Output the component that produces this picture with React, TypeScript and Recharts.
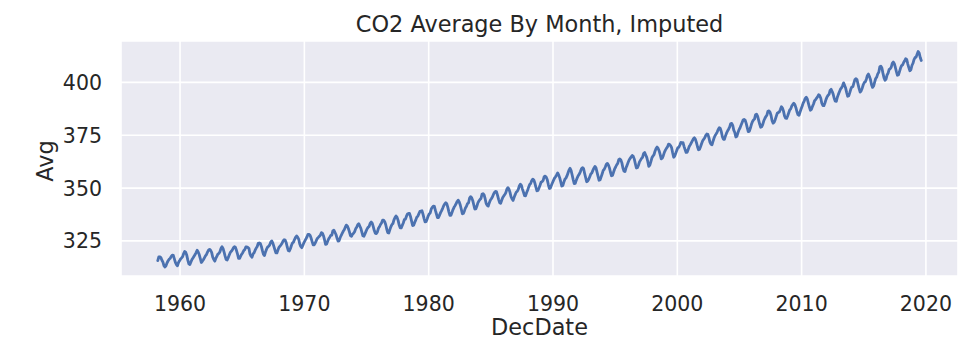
import { LineChart, Line, XAxis, YAxis, CartesianGrid } from 'recharts';

// Mauna Loa monthly CO2 average (ppm), gaps imputed. First value is March 1958.
const START_YEAR = 1958;
const START_MONTH = 3;

const co2_1958_1959 = [
  315.71, 317.45, 317.5, 317.1, 315.86, 314.93, 313.2, 312.66, 313.33, 314.67,
  315.62, 316.38, 316.71, 317.72, 318.29, 318.15, 316.54, 314.8, 313.84, 313.26, 314.8, 315.58,
];

const co2_1960s = [
  316.43, 316.97, 317.58, 319.02, 320.03, 319.59, 318.18, 315.91, 314.16, 313.83, 315.0, 316.19,
  316.93, 317.7, 318.54, 319.48, 320.58, 319.77, 318.57, 316.79, 314.8, 315.38, 316.1, 317.01,
  317.94, 318.56, 319.68, 320.63, 321.01, 320.55, 319.58, 317.4, 316.26, 315.42, 316.69, 317.69,
  318.74, 319.08, 319.86, 321.39, 322.25, 321.47, 319.74, 317.77, 316.21, 315.99, 317.12, 318.31,
  319.57, 320.07, 320.73, 321.77, 322.25, 321.89, 320.44, 318.7, 316.7, 316.79, 317.79, 318.71,
  319.44, 320.44, 320.89, 322.13, 322.16, 321.87, 321.39, 318.81, 317.81, 317.3, 318.87, 319.42,
  320.62, 321.59, 322.39, 323.87, 324.01, 323.75, 322.39, 320.37, 318.64, 318.1, 319.79, 321.08,
  322.07, 322.5, 323.04, 324.42, 325.0, 324.09, 322.55, 320.92, 319.31, 319.31, 320.72, 321.96,
  322.57, 323.15, 323.89, 325.02, 325.57, 325.36, 324.14, 322.03, 320.41, 320.25, 321.31, 322.84,
  324.0, 324.42, 325.64, 326.66, 327.34, 326.76, 325.88, 323.67, 322.38, 321.78, 322.85, 324.11,
];

const co2_1970s = [
  325.03, 325.99, 326.87, 328.13, 328.07, 327.66, 326.35, 324.69, 323.1, 323.16, 323.98, 325.13,
  326.17, 326.68, 327.18, 327.78, 328.92, 328.57, 327.34, 325.46, 323.36, 323.57, 324.8, 326.01,
  326.77, 327.63, 327.75, 329.72, 330.07, 329.09, 328.05, 326.32, 324.93, 325.06, 326.5, 327.55,
  328.54, 329.56, 330.3, 331.5, 332.48, 332.07, 330.87, 329.31, 327.51, 327.18, 328.16, 328.64,
  329.35, 330.71, 331.48, 332.65, 333.16, 332.06, 330.99, 329.17, 327.41, 327.2, 328.33, 329.5,
  330.68, 331.41, 331.85, 333.29, 333.91, 333.4, 331.78, 329.88, 328.57, 328.46, 329.26, 330.97,
  331.71, 332.76, 333.48, 334.78, 334.78, 334.17, 332.78, 330.64, 328.95, 328.77, 330.23, 331.69,
  332.7, 333.24, 334.96, 336.04, 336.82, 336.13, 334.73, 332.52, 331.19, 331.19, 332.35, 333.47,
  335.11, 335.26, 336.6, 337.77, 338.0, 337.99, 336.48, 334.37, 332.27, 332.41, 333.76, 334.83,
  336.21, 336.64, 337.81, 338.95, 339.05, 339.27, 337.64, 335.68, 333.99, 334.09, 335.29, 336.76,
];

const co2_1980s = [
  337.77, 338.26, 340.1, 340.88, 341.47, 341.31, 339.41, 337.74, 336.07, 336.07, 337.22, 338.38,
  339.32, 340.41, 341.69, 342.51, 343.02, 342.54, 340.88, 338.75, 337.05, 337.13, 338.45, 339.85,
  340.9, 341.7, 342.7, 343.65, 344.28, 343.42, 342.02, 339.97, 337.84, 338.0, 339.2, 340.63,
  341.41, 342.68, 343.04, 345.27, 345.92, 345.4, 344.16, 342.11, 340.11, 340.15, 341.38, 343.02,
  343.87, 344.59, 345.11, 347.07, 347.38, 346.78, 344.96, 342.71, 341.86, 341.5, 342.98, 344.22,
  344.94, 345.74, 347.0, 347.91, 348.44, 348.25, 346.56, 344.68, 343.09, 342.8, 344.24, 345.56,
  346.3, 346.95, 347.85, 349.55, 350.21, 349.55, 347.94, 345.9, 344.85, 344.17, 345.66, 346.9,
  348.02, 348.48, 349.42, 350.99, 351.85, 351.26, 349.51, 348.1, 346.45, 346.36, 347.81, 348.96,
  350.43, 351.73, 352.22, 353.59, 354.22, 353.79, 352.39, 350.44, 348.72, 348.88, 350.07, 351.34,
  352.76, 353.07, 353.68, 355.42, 355.67, 355.13, 353.9, 351.67, 349.8, 349.99, 351.3, 352.53,
];

const co2_1990s = [
  353.66, 354.7, 355.39, 356.2, 357.16, 356.22, 354.82, 352.91, 350.96, 351.18, 352.83, 354.21,
  354.72, 355.75, 357.16, 358.6, 359.34, 358.24, 356.17, 354.02, 352.15, 352.21, 353.75, 354.99,
  355.99, 356.72, 357.81, 359.15, 359.66, 359.25, 357.02, 355.0, 353.01, 353.31, 354.16, 355.4,
  356.7, 357.16, 358.38, 359.46, 360.28, 359.6, 357.57, 355.52, 353.7, 353.98, 355.33, 356.8,
  358.36, 358.91, 359.97, 361.26, 361.68, 360.95, 359.55, 357.49, 355.84, 356.0, 357.59, 359.05,
  359.98, 361.03, 361.66, 363.48, 363.82, 363.3, 361.94, 359.5, 358.11, 357.8, 359.61, 360.74,
  362.09, 363.29, 364.06, 364.76, 365.45, 365.01, 363.7, 361.54, 359.51, 359.65, 360.8, 362.38,
  363.23, 364.06, 364.61, 366.4, 366.84, 365.68, 364.52, 362.57, 360.24, 360.83, 362.49, 364.34,
  365.17, 365.78, 367.48, 368.71, 369.42, 368.76, 367.58, 365.84, 363.83, 364.18, 365.34, 366.93,
  367.94, 368.82, 369.46, 370.77, 370.66, 370.1, 369.1, 366.7, 364.61, 365.17, 366.51, 367.85,
];

const co2_2000s = [
  369.07, 369.32, 370.38, 371.63, 371.32, 371.53, 369.75, 368.23, 366.87, 366.94, 368.27, 369.64,
  370.46, 371.44, 372.37, 373.33, 373.77, 373.09, 371.51, 369.55, 368.12, 368.38, 369.66, 371.11,
  372.36, 373.09, 373.81, 374.93, 375.58, 375.44, 373.86, 371.77, 370.73, 370.5, 372.18, 373.7,
  374.92, 375.63, 376.51, 377.75, 378.54, 378.21, 376.65, 374.28, 373.12, 373.1, 374.67, 375.97,
  377.03, 377.87, 378.88, 380.42, 380.62, 379.7, 377.43, 376.32, 374.19, 374.47, 376.15, 377.51,
  378.43, 379.7, 380.92, 382.18, 382.45, 382.14, 380.6, 378.64, 376.73, 376.84, 378.29, 380.06,
  381.4, 382.2, 382.66, 384.69, 384.94, 384.01, 382.14, 380.31, 378.81, 379.03, 380.17, 381.85,
  382.94, 383.86, 384.49, 386.37, 386.54, 385.98, 384.36, 381.85, 380.74, 381.15, 382.38, 383.94,
  385.44, 385.73, 385.97, 387.16, 388.5, 387.88, 386.42, 384.15, 383.09, 382.99, 384.13, 385.56,
  386.94, 387.48, 388.82, 389.55, 390.14, 389.48, 388.03, 386.11, 384.74, 384.43, 386.02, 387.42,
];

const co2_2010s = [
  388.71, 390.2, 391.17, 392.46, 393.0, 392.15, 390.2, 388.35, 386.85, 387.24, 388.67, 389.79,
  391.33, 391.86, 392.6, 393.25, 394.19, 393.74, 392.51, 390.13, 389.08, 389.0, 390.28, 391.86,
  393.12, 393.86, 394.4, 396.18, 396.74, 395.71, 394.36, 392.39, 391.11, 391.05, 392.98, 394.34,
  395.55, 396.8, 397.43, 398.41, 399.78, 398.6, 397.32, 395.2, 393.45, 393.7, 395.16, 396.84,
  397.85, 398.01, 399.77, 401.38, 401.78, 401.25, 399.1, 397.03, 395.38, 396.03, 397.28, 398.91,
  399.98, 400.28, 401.54, 403.28, 403.96, 402.8, 401.31, 398.93, 397.63, 398.29, 400.16, 401.85,
  402.52, 404.04, 404.83, 407.42, 407.7, 406.81, 404.39, 402.25, 401.03, 401.57, 403.53, 404.42,
  406.13, 406.42, 407.18, 409.0, 409.65, 408.84, 407.07, 405.07, 403.38, 403.64, 405.14, 406.81,
  407.96, 408.32, 409.41, 410.24, 411.24, 410.79, 408.71, 406.99, 405.51, 406.0, 408.02, 409.07,
  410.83, 411.75, 411.97, 413.32, 414.66, 413.92, 411.77, 410.4,
];

const X_TICKS = [1960, 1970, 1980, 1990, 2000, 2010, 2020];
const Y_TICKS = [325, 350, 375, 400];

const allValues = [
  ...co2_1958_1959,
  ...co2_1960s,
  ...co2_1970s,
  ...co2_1980s,
  ...co2_1990s,
  ...co2_2000s,
  ...co2_2010s,
];

// DecDate = year + (month - 0.5) / 12
const data = allValues.map((avg, i) => {
  const m = START_MONTH - 1 + i;
  return { DecDate: START_YEAR + Math.floor(m / 12) + ((m % 12) + 0.5) / 12, Avg: avg };
});

const FONT = '"DejaVu Sans", sans-serif';
const TEXT = '#262626';

const XTick = ({ x, y, payload }: any) => (
  <text x={x} y={y + 33} textAnchor="middle" fill={TEXT} fontSize={20.5} fontFamily={FONT}>
    {payload.value}
  </text>
);

const YTick = ({ x, y, payload }: any) => (
  <text x={x - 17} y={y + 7.5} textAnchor="end" fill={TEXT} fontSize={20.5} fontFamily={FONT}>
    {payload.value}
  </text>
);

export default function App() {
  return (
    <div style={{ position: 'absolute', left: 0, top: 0, width: 972, height: 352, background: '#fff' }}>
      <div
        style={{
          position: 'absolute',
          left: 121,
          width: 837,
          top: 13,
          textAlign: 'center',
          fontFamily: FONT,
          fontSize: 22.4,
          lineHeight: '22px',
          color: TEXT,
          whiteSpace: 'nowrap',
        }}
      >
        CO2 Average By Month, Imputed
      </div>
      <LineChart width={972} height={352} data={data} margin={{ top: 41, right: 14, bottom: 0, left: 0 }}>
        <CartesianGrid stroke="#ffffff" strokeWidth={1.6} fill="#EAEAF2" />
        <XAxis
          dataKey="DecDate"
          type="number"
          domain={[1955.25, 2022.58]}
          ticks={X_TICKS}
          allowDataOverflow
          axisLine={false}
          tickLine={false}
          tickSize={0}
          height={76}
          tick={<XTick />}
          label={{
            content: ({ viewBox }: any) => (
              <text
                x={viewBox.x + viewBox.width / 2}
                y={viewBox.y + 59}
                textAnchor="middle"
                fill={TEXT}
                fontSize={22.4}
                fontFamily={FONT}
              >
                DecDate
              </text>
            ),
          }}
        />
        <YAxis
          type="number"
          domain={[308.4, 419.6]}
          ticks={Y_TICKS}
          allowDataOverflow
          axisLine={false}
          tickLine={false}
          tickSize={0}
          width={121}
          tick={<YTick />}
          label={{
            content: () => (
              <text
                x={53}
                y={161}
                transform="rotate(-90, 53, 161)"
                textAnchor="middle"
                fill={TEXT}
                fontSize={22.4}
                fontFamily={FONT}
              >
                Avg
              </text>
            ),
          }}
        />
        <Line
          type="linear"
          dataKey="Avg"
          stroke="#4C72B0"
          strokeWidth={2.8}
          strokeLinejoin="round"
          strokeLinecap="round"
          dot={false}
          isAnimationActive={false}
        />
      </LineChart>
    </div>
  );
}
